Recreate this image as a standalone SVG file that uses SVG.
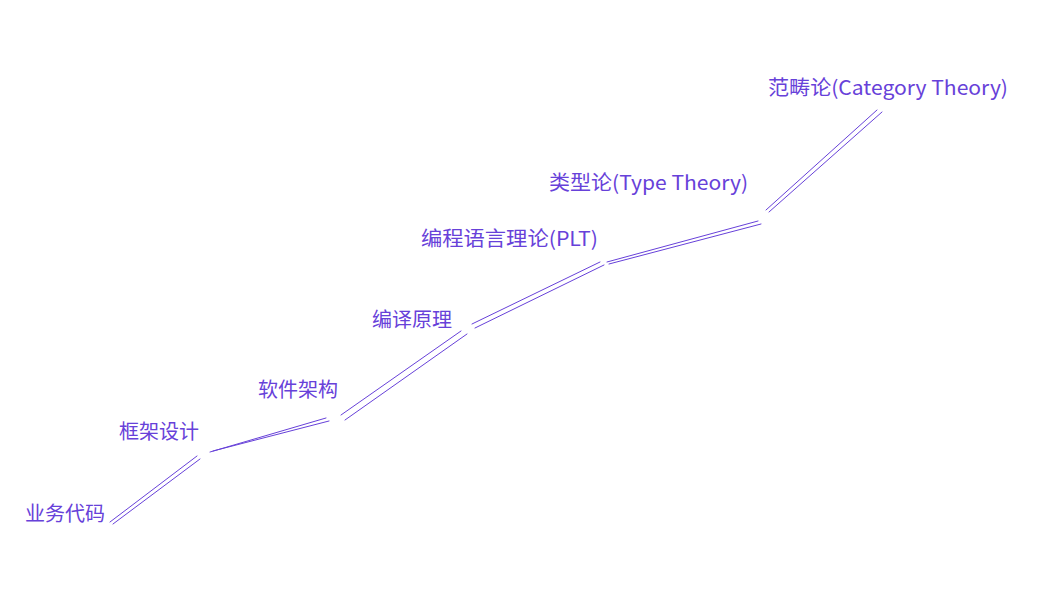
<svg xmlns="http://www.w3.org/2000/svg" width="1055" height="596" viewBox="0 0 1055 596">
<style>
.l{fill:none;stroke:#6741d9;stroke-width:1;stroke-linecap:round}
.t{fill:#6741d9;font-family:"Noto Sans CJK SC","Liberation Sans",sans-serif;font-size:20px}
</style>
<rect width="1055" height="596" fill="#ffffff"/>
<g id="connectors">
<path class="l" d="M110 522 L197 456 M113 524 L200 459"/>
<path class="l" d="M210 452 L326 418 M213 451 L329 421"/>
<path class="l" d="M341 415 L461 331 M345 420 L467 334"/>
<path class="l" d="M472 324 L600 262 M475 328 L604 265"/>
<path class="l" d="M607 262 L758 221 M609 264 L761 224"/>
<path class="l" d="M766 210 L877 110 M769 212 L882 112"/>
</g>
<g id="n1"><text class="t" x="25" y="521">业务代码</text></g>
<g id="n2"><text class="t" x="119" y="439">框架设计</text></g>
<g id="n3"><text class="t" x="258" y="397">软件架构</text></g>
<g id="n4"><text class="t" x="372" y="327">编译原理</text></g>
<g id="n5"><text class="t" x="421" y="246" textLength="177" lengthAdjust="spacingAndGlyphs">编程语言理论(PLT)</text></g>
<g id="n6"><text class="t" x="549" y="190" textLength="199" lengthAdjust="spacingAndGlyphs">类型论(Type Theory)</text></g>
<g id="n7"><text class="t" x="768" y="95" textLength="240" lengthAdjust="spacingAndGlyphs">范畴论(Category Theory)</text></g>
</svg>
